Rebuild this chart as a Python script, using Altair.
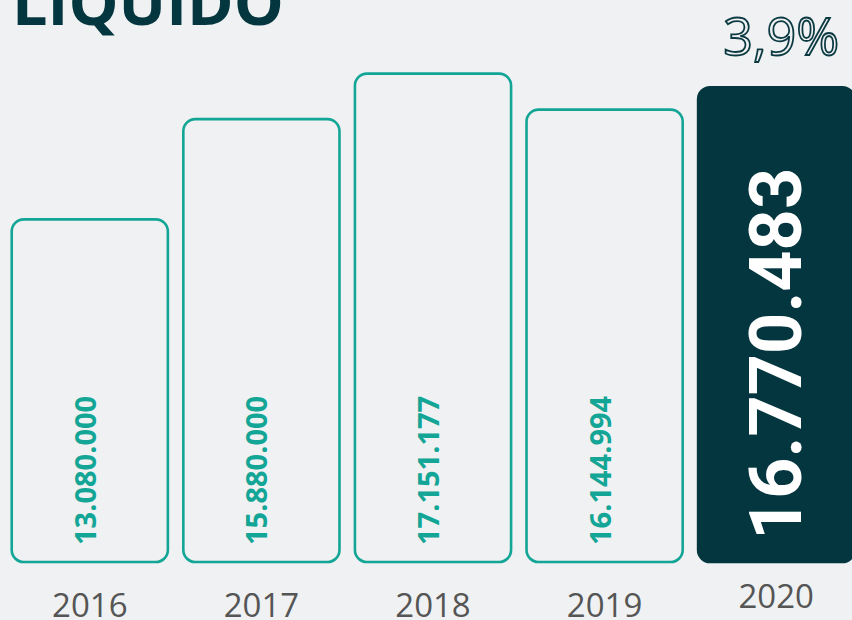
import altair as alt
import pandas as pd

years = ["2016", "2017", "2018", "2019", "2020"]
values = [13080000, 15880000, 17151177, 16144994, 16770483]
kinds = ["normal", "normal", "normal", "normal", "destaque"]
title_text = "LÍQUIDO"

labels = [f"{v:,}".replace(",", ".") for v in values]
growth = (values[-1] / values[-2] - 1) * 100
growth_text = f"{growth:.1f}%".replace(".", ",")

df = pd.DataFrame({"year": years, "value": values, "kind": kinds, "label": labels})
df_growth = pd.DataFrame({"year": [years[-1]], "txt": [growth_text]})
df_title = pd.DataFrame({"txt": [title_text]})

TEAL = "#13a595"
DARK = "#03363f"
BASE_VALUE = 3508000  # axis baseline of the (non-zero) value scale

xenc = alt.X("year:N", axis=None,
             scale=alt.Scale(range=[4, 862], paddingInner=0.09, paddingOuter=0.045))

base = alt.Chart(df)

bars = base.mark_bar(cornerRadius=12, strokeWidth=2.6).encode(
    x=xenc,
    y=alt.Y("value:Q", axis=None,
            scale=alt.Scale(domain=[1888000, 19207000], zero=False, nice=False)),
    y2=alt.datum(BASE_VALUE),
    fill=alt.Fill("kind:N", legend=None,
                  scale=alt.Scale(domain=["normal", "destaque"], range=["transparent", DARK])),
    stroke=alt.Stroke("kind:N", legend=None,
                      scale=alt.Scale(domain=["normal", "destaque"], range=[TEAL, DARK])),
)

small_labels = base.transform_filter(alt.datum.kind == "normal").mark_text(
    angle=270, align="left", baseline="middle", font="Open Sans", fontWeight="bold",
    fontSize=29, color=TEAL, dy=-3
).encode(x=xenc, y=alt.value(545), text="label:N")

big_label = base.transform_filter(alt.datum.kind == "destaque").mark_text(
    angle=270, align="left", baseline="middle", font="Roboto", fontWeight="bold",
    fontSize=72, color="white", dy=3
).encode(x=xenc, y=alt.value(540), text="label:N")

year_lbl = base.transform_filter(alt.datum.kind == "normal").mark_text(
    font="Open Sans", fontSize=33, color="#555555", baseline="alphabetic"
).encode(x=xenc, y=alt.value(617), text="year:N")

year_lbl_hl = base.transform_filter(alt.datum.kind == "destaque").mark_text(
    font="Open Sans", fontSize=33, color="#555555", baseline="alphabetic"
).encode(x=xenc, y=alt.value(608), text="year:N")

pct = alt.Chart(df_growth).mark_text(
    font="Open Sans", fontSize=52, fillOpacity=0, stroke="#0b3a42", strokeWidth=1.8,
    baseline="alphabetic", dx=5
).encode(x=xenc, y=alt.value(55), text="txt:N")

title = alt.Chart(df_title).mark_text(
    font="Open Sans", fontWeight="bold", fontSize=63, color="#04363f",
    align="left", baseline="alphabetic"
).encode(x=alt.value(12), y=alt.value(25), text="txt:N")

chart = alt.layer(bars, small_labels, big_label, year_lbl, year_lbl_hl, pct, title).resolve_scale(
    fill="independent", stroke="independent"
).properties(
    width=852, height=620, padding=0,
    autosize=alt.AutoSizeParams(type="none"),
    background="#eff1f2",
).configure_view(stroke=None)

chart.save("out.html", embed_options={"renderer": "svg", "actions": False})
